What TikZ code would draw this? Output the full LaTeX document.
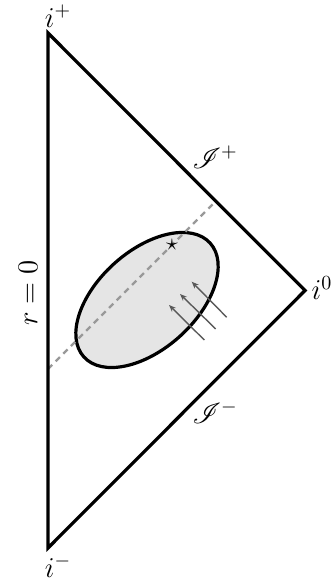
\documentclass[tikz,border=0pt]{standalone}
\usepackage{mathrsfs}
\usetikzlibrary{arrows.meta}
\begin{document}
\begin{tikzpicture}[x=0.5pt,y=0.5pt,
  edge/.style={line width=1.6pt, line join=miter},
  lbl/.style={font=\Large, inner sep=1pt},
  ray/.style={draw=black!65, line width=0.7pt, -{Stealth[length=3.5pt,width=2.8pt]}},
  nullray/.style={draw=black!40, line width=1.2pt, dash pattern=on 3pt off 2.4pt}]
\useasboundingbox (0,0) rectangle (334,582);
% vertices
\coordinate (ip) at (48,549);
\coordinate (im) at (48,34);
\coordinate (i0) at (305,291.5);
% ellipse (star region)
\draw[edge, fill=gray!20, rotate around={42:(147,282)}] (147,282) ellipse [x radius=85, y radius=49];
% null ray
\coordinate (d1) at (48,213);
\coordinate (d2) at (216,381);
\draw[nullray] (d1) -- (d2);
% triangle
\draw[edge] (ip) -- (i0) -- (im) -- cycle;
% star
\node[inner sep=0pt, font=\large] (star) at (172,337) {$\star$};
% incoming arrows
\coordinate (a1s) at (226.7,264.7); \coordinate (a1e) at (191.7,300.3);
\coordinate (a2s) at (215.7,253);   \coordinate (a2e) at (180,288);
\coordinate (a3s) at (204.3,242);   \coordinate (a3e) at (169,277);
\draw[ray] (a1s) -- (a1e);
\draw[ray] (a2s) -- (a2e);
\draw[ray] (a3s) -- (a3e);
% labels
\node[lbl] (lip) at (58,566) {$i^+$};
\node[lbl] (lim) at (58,16) {$i^-$};
\node[lbl] (li0) at (322,294) {$i^0$};
\node[lbl] (lsp) at (215,425) {$\mathscr{I}^+$};
\node[lbl] (lsm) at (215,170) {$\mathscr{I}^-$};
\node[lbl, rotate=90] (lr) at (28,289) {$r=0$};
\end{tikzpicture}
\end{document}
